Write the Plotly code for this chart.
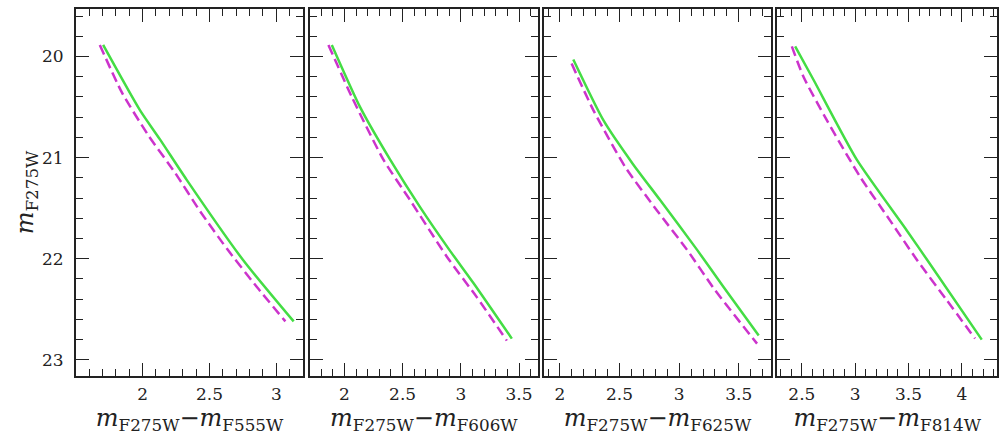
import plotly.graph_objects as go
from plotly.subplots import make_subplots

# isochrones: colour index (m_F275W - m_X) vs m_F275W, one pair per panel
mag_green = [[19.885, 20.53, 20.82, 21.22, 22.01, 22.62],
             [19.885, 20.50, 21.02, 21.49, 21.91, 22.24, 22.79],
             [20.03, 20.63, 21.06, 21.42, 21.91, 22.28, 22.76],
             [19.90, 20.23, 21.02, 21.72, 22.05, 22.80]]
col_green = [[1.705, 1.98, 2.13, 2.33, 2.75, 3.13],
             [1.892, 2.135, 2.393, 2.65, 2.90, 3.108, 3.438],
             [2.112, 2.364, 2.61, 2.84, 3.149, 3.372, 3.667],
             [2.437, 2.609, 3.015, 3.484, 3.70, 4.187]]

mag_magenta = [[19.885, 20.35, 20.78, 21.15, 21.53, 21.90, 22.28, 22.62],
               [19.885, 20.40, 21.02, 21.42, 21.98, 22.38, 22.81],
               [20.07, 20.53, 21.09, 21.52, 21.91, 22.31, 22.84],
               [19.90, 20.20, 20.63, 21.19, 21.58, 22.01, 22.41, 22.79]]
col_magenta = [[1.68, 1.843, 2.043, 2.243, 2.43, 2.63, 2.855, 3.068],
               [1.863, 2.064, 2.335, 2.564, 2.88, 3.137, 3.395],
               [2.098, 2.28, 2.546, 2.812, 3.065, 3.30, 3.653],
               [2.406, 2.515, 2.734, 3.046, 3.30, 3.578, 3.859, 4.124]]

filtros = ["F555W", "F606W", "F625W", "F814W"]
x_ranges = [[1.502, 3.2], [1.705, 3.66], [1.866, 3.77], [2.27, 4.33]]
y_range = [23.16, 19.53]
dominios = [[0.0, 0.2465], [0.2541, 0.5013], [0.5081, 0.7546], [0.7615, 1.0]]

fig = make_subplots(rows=1, cols=4, horizontal_spacing=0.01)

for i in range(4):
    fig.add_trace(go.Scatter(
            x=col_magenta[i],
            y=mag_magenta[i],
            mode='lines',
            line=dict(color='#cc33cc', width=2.5, dash='10px,5px',
                      shape='spline', smoothing=0.6),
            showlegend=False
        ), row=1, col=i + 1)
    fig.add_trace(go.Scatter(
            x=col_green[i],
            y=mag_green[i],
            mode='lines',
            line=dict(color='#44dd44', width=2.5, shape='spline', smoothing=0.6),
            showlegend=False
        ), row=1, col=i + 1)

    fig.update_xaxes(
        range=x_ranges[i],
        domain=dominios[i],
        automargin=False,
        tick0=0, dtick=0.5,
        ticks='inside', ticklen=13, tickwidth=1.4, tickcolor='#222',
        minor=dict(dtick=0.1, ticks='inside', ticklen=7, tickwidth=1.2, tickcolor='#222'),
        showline=True, linewidth=2, linecolor='#222', mirror='allticks',
        showgrid=False, zeroline=False,
        ticklabelstandoff=2,
        tickfont=dict(family='DejaVu Serif', size=17, color='#222'),
        title=dict(
            text='<i>m</i><sub>F275W</sub>\u2212<i>m</i><sub>' + filtros[i] + '</sub>',
            font=dict(family='DejaVu Serif', size=24, color='#222'),
            standoff=4
        ),
        row=1, col=i + 1)

    fig.update_yaxes(
        range=y_range,
        automargin=False,
        tick0=0, dtick=1,
        ticks='inside', ticklen=13, tickwidth=1.4, tickcolor='#222',
        minor=dict(dtick=0.2, ticks='inside', ticklen=7, tickwidth=1.2, tickcolor='#222'),
        showline=True, linewidth=2, linecolor='#222', mirror='allticks',
        showgrid=False, zeroline=False,
        showticklabels=(i == 0),
        ticklabelstandoff=7,
        tickfont=dict(family='DejaVu Serif', size=17, color='#222'),
        row=1, col=i + 1)

fig.update_yaxes(
    title=dict(
        text='<i>m</i><sub>F275W</sub>',
        font=dict(family='DejaVu Serif', size=24, color='#222'),
        standoff=0
    ),
    row=1, col=1)

fig.update_layout(
    width=1000, height=447,
    margin=dict(l=76, r=3, t=9, b=71),
    plot_bgcolor='white',
    paper_bgcolor='white',
    showlegend=False
)

# sem margem do body para a figura ocupar a janela inteira
fig.write_html("out.html", config={'displayModeBar': False},
               post_script="document.body.style.margin='0';")
